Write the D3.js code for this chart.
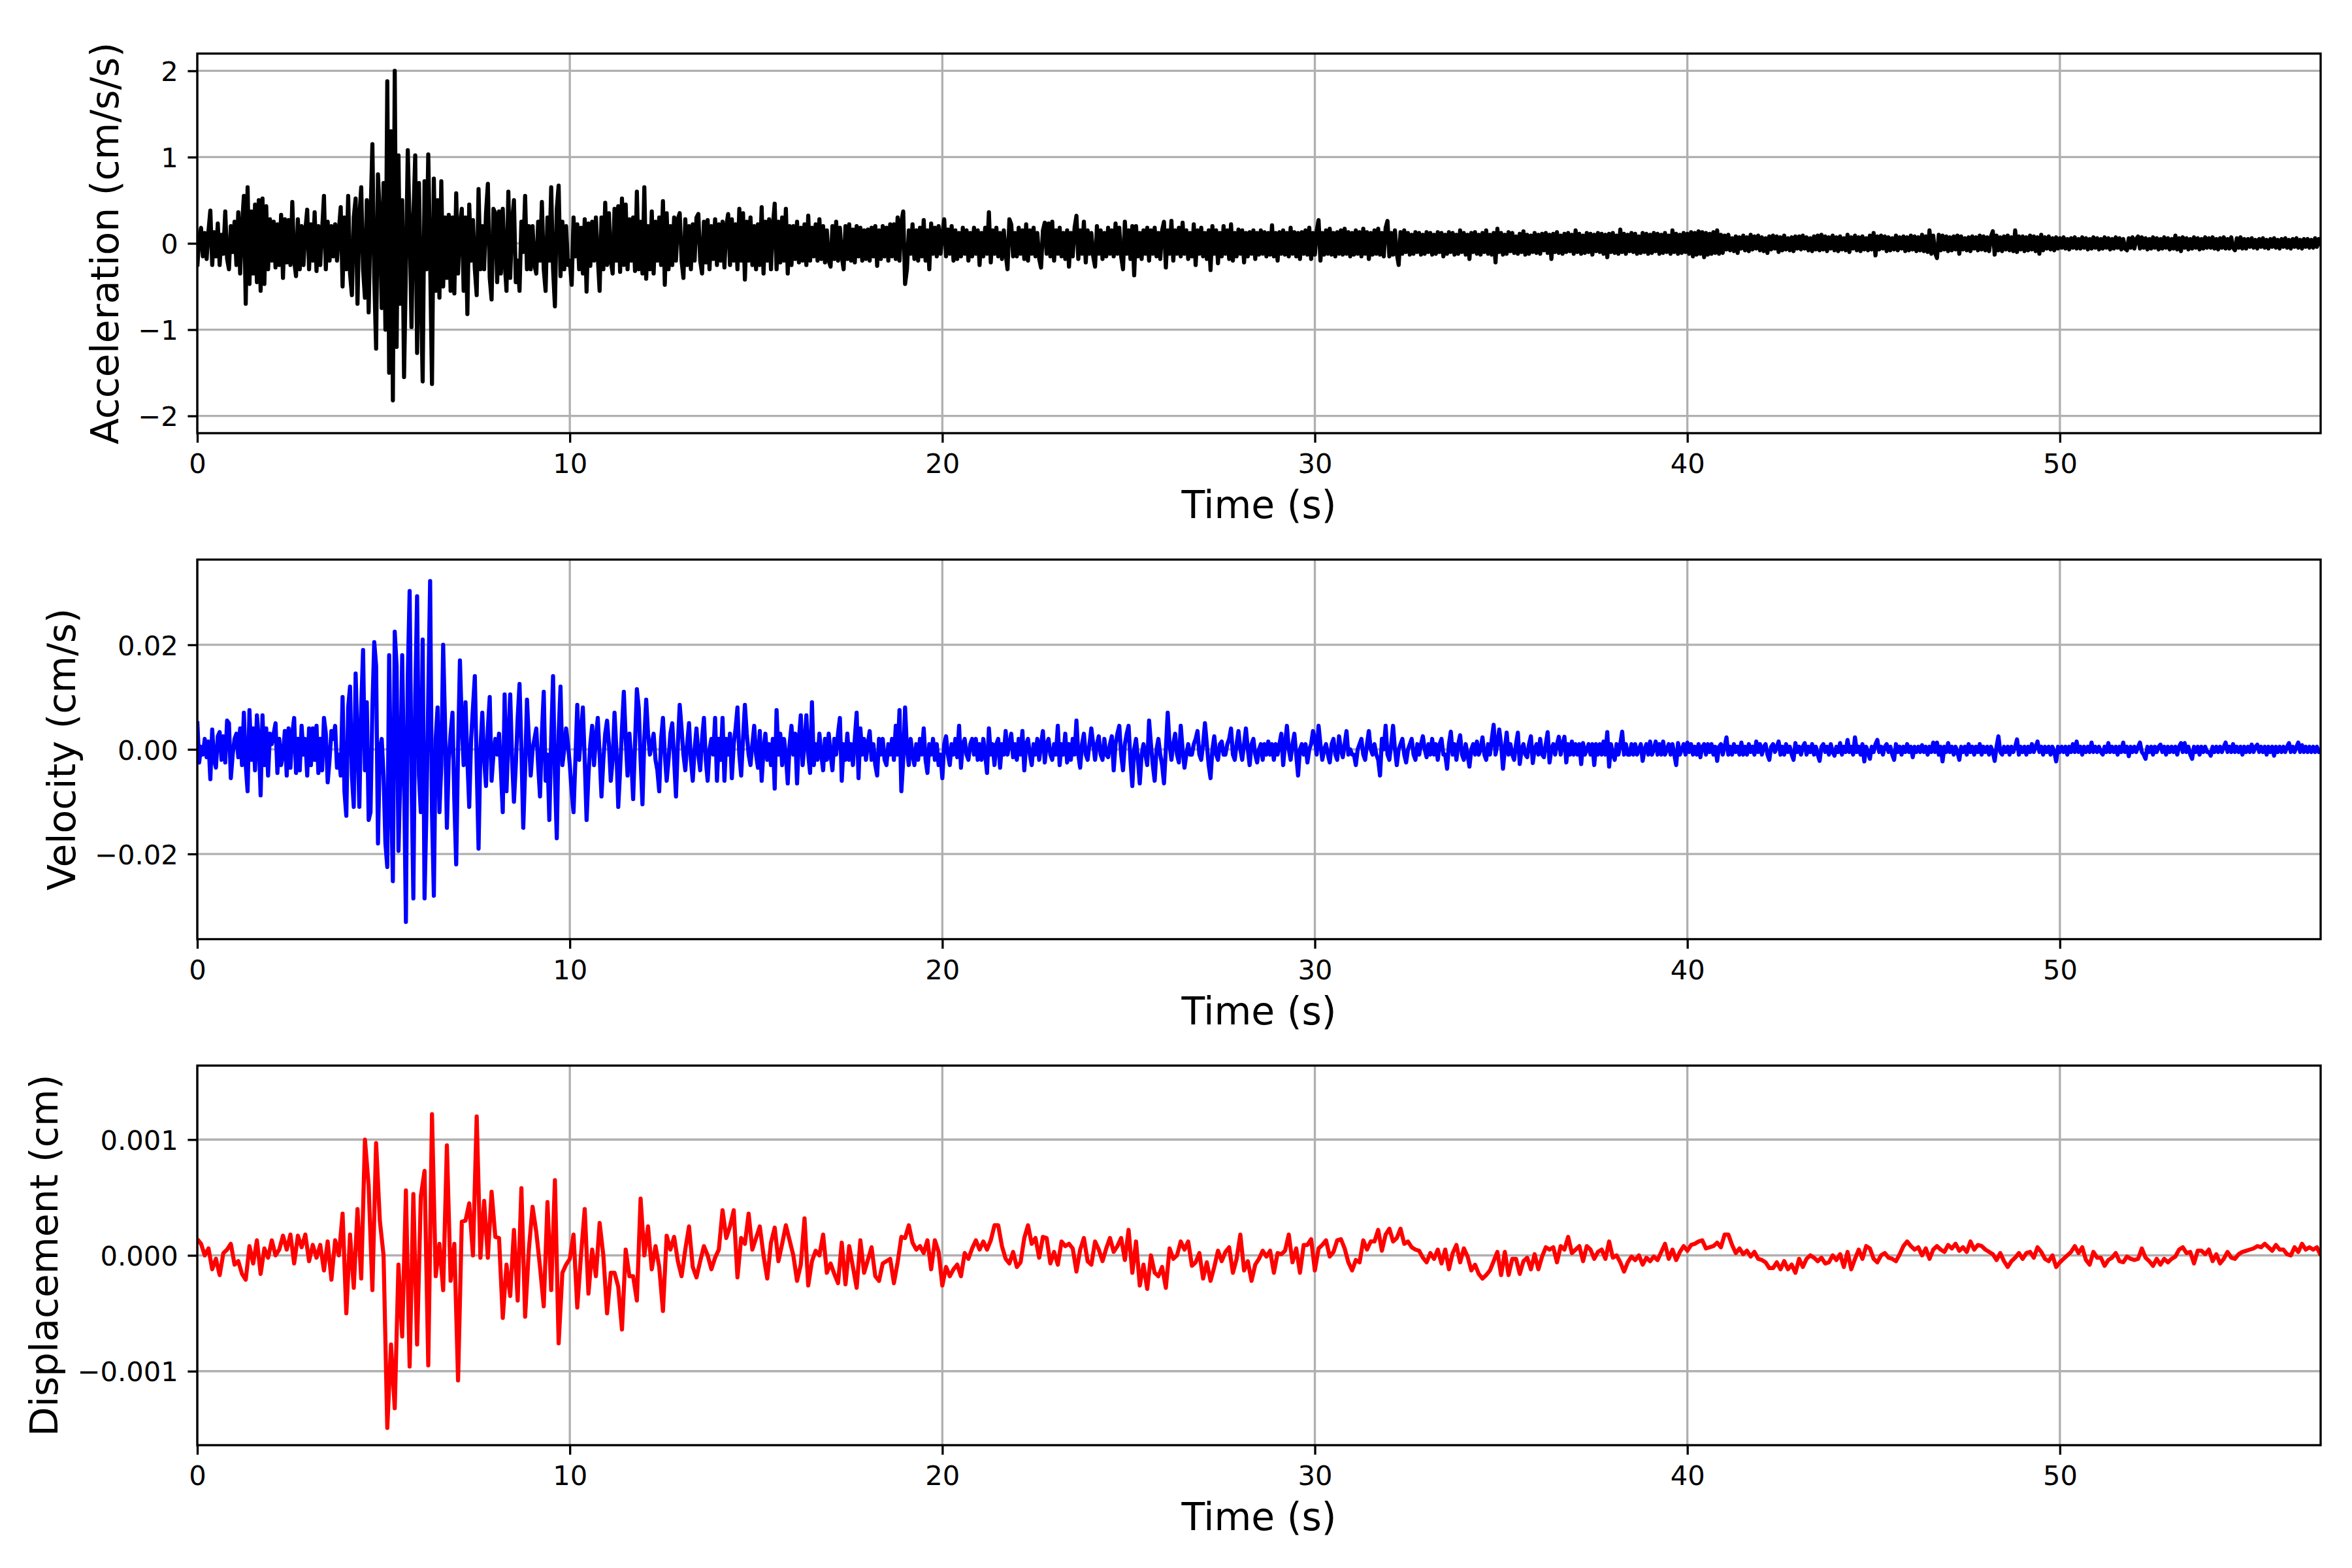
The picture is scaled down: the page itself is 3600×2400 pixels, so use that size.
<!DOCTYPE html>
<html>
<head>
<meta charset="utf-8">
<script src="https://cdn.jsdelivr.net/npm/d3@7"></script>
<style>
body { margin: 0; background: #fff; }
svg { display: block; }
</style>
</head>
<body>
<svg id="chart"></svg>
<script>
// Sample spacing of each record (s)
var accelDt = 0.05, velDt = 0.05, dispDt = 0.1;

// Acceleration (cm/s/s), one row per second
var acceleration = [
-0.27,0.05,0.18,-0.15,0.12,-0.18,0.14,0.38,-0.25,0.13,-0.15,0.23,-0.25,0.1,-0.12,0.37,-0.18,-0.3,0.2,-0.1,
0.25,-0.25,0.36,-0.35,0.2,0.55,-0.7,0.65,-0.47,0.37,-0.35,0.45,-0.45,0.5,-0.55,0.52,-0.47,0.43,-0.3,0.28,
-0.2,0.25,-0.28,0.22,-0.25,0.33,-0.4,0.28,-0.22,0.27,-0.25,0.48,-0.2,-0.38,0.28,-0.3,0.2,-0.25,0.15,0.39,
-0.3,0.22,-0.2,0.36,-0.32,0.2,-0.25,0.15,0.55,-0.3,0.25,-0.2,0.2,-0.15,0.22,-0.2,0.15,0.42,-0.5,0.3,
-0.3,0.55,-0.35,-0.6,0.3,0.52,-0.7,0.3,0.65,-0.3,-0.63,0.5,-0.8,0.3,1.15,-0.4,-1.22,0.8,0.3,-0.75,
0.7,-1.0,1.88,-1.5,1.3,-1.82,2.0,-1.2,1.02,-0.7,0.5,-1.55,-0.3,1.08,0.2,-0.97,0.3,1.02,-1.27,0.7,
-0.5,-1.6,0.72,-0.3,1.03,-0.2,-1.63,0.75,-0.55,0.5,-0.63,0.72,-0.5,0.3,-0.4,0.33,-0.55,0.3,-0.58,0.58,
-0.35,0.2,0.4,-0.55,0.3,-0.82,0.45,-0.2,0.27,-0.3,-0.6,0.63,-0.3,0.2,-0.3,0.35,0.69,-0.4,-0.65,0.4,
0.35,-0.45,0.37,-0.35,0.4,-0.2,-0.55,0.6,-0.4,0.25,0.5,-0.45,-0.2,-0.55,0.25,-0.1,0.55,-0.3,0.2,-0.3,
0.2,-0.25,-0.35,0.25,-0.2,0.48,-0.3,-0.55,0.3,-0.2,0.65,-0.3,-0.73,0.4,0.67,-0.38,0.25,-0.3,0.2,-0.25,
-0.2,-0.48,0.3,-0.15,0.22,-0.3,0.18,-0.35,0.28,-0.56,0.23,-0.26,0.25,-0.2,0.3,-0.15,-0.55,0.3,-0.3,0.47,
-0.25,0.35,-0.2,-0.35,0.4,-0.2,0.43,-0.33,0.52,-0.25,0.45,-0.3,0.28,-0.2,0.3,-0.32,0.6,-0.3,0.25,-0.35,
0.65,-0.41,0.2,-0.3,0.37,-0.35,0.25,-0.2,0.3,-0.25,0.49,-0.48,0.35,-0.3,0.2,-0.25,0.3,-0.2,0.28,0.35,
-0.2,-0.4,0.28,-0.25,0.2,-0.3,0.22,-0.2,0.3,0.34,-0.2,-0.35,0.25,-0.22,0.27,-0.3,0.2,-0.18,0.28,-0.25,
0.22,-0.2,0.25,-0.28,0.2,0.34,-0.25,0.28,-0.2,0.22,-0.3,0.4,-0.2,0.35,-0.42,0.25,-0.2,0.3,-0.25,0.2,
-0.3,0.22,-0.25,0.42,-0.35,0.25,-0.2,0.28,-0.3,0.2,0.46,-0.3,0.25,-0.22,0.3,-0.2,0.4,-0.35,0.2,-0.25,
0.2,-0.18,0.25,-0.22,0.18,-0.2,0.22,-0.25,0.32,-0.2,0.18,-0.15,0.22,-0.2,0.28,-0.18,0.2,-0.22,0.15,-0.2,
-0.27,0.2,-0.18,0.25,-0.2,0.18,-0.15,-0.3,0.2,-0.18,0.22,-0.2,0.16,-0.22,0.2,-0.15,0.18,-0.2,0.15,-0.18,
0.16,-0.2,0.18,-0.15,0.2,-0.26,0.15,-0.18,0.2,-0.15,0.18,-0.2,0.22,-0.15,0.22,-0.18,0.3,-0.2,0.25,0.37,
-0.47,-0.3,0.15,-0.12,0.22,-0.18,0.15,-0.2,0.18,-0.15,0.27,-0.2,0.15,-0.3,0.23,-0.12,0.18,-0.15,0.2,-0.12,
0.1,0.28,-0.15,0.16,-0.12,0.2,-0.2,0.15,-0.18,0.12,-0.15,0.18,-0.12,0.15,-0.2,0.12,-0.15,0.18,-0.12,0.15,
-0.25,0.12,-0.15,0.18,-0.12,0.36,-0.22,0.15,-0.12,0.18,-0.15,0.12,-0.18,0.15,-0.12,-0.3,0.28,0.22,-0.15,0.12,
-0.15,0.18,-0.12,0.15,-0.18,0.22,-0.2,0.15,-0.12,0.18,-0.15,0.12,-0.18,-0.28,0.15,0.24,-0.12,0.23,-0.15,0.25,
-0.2,0.15,-0.12,0.18,-0.15,0.12,-0.18,0.15,-0.27,0.12,-0.15,0.18,0.32,-0.18,0.15,-0.12,0.25,-0.22,0.15,-0.12,
0.12,-0.15,-0.27,0.2,-0.12,0.15,-0.18,0.12,-0.15,0.18,-0.12,0.15,-0.15,0.23,-0.12,0.18,-0.15,-0.3,0.25,-0.12,
0.15,-0.18,0.2,-0.37,0.2,-0.15,0.12,-0.18,0.15,-0.12,0.18,-0.2,0.15,-0.12,0.18,-0.15,0.12,-0.18,0.15,0.25,
-0.28,0.15,-0.12,0.26,-0.2,0.15,-0.12,0.18,-0.15,0.24,-0.12,0.15,-0.18,0.12,-0.15,0.22,-0.25,0.15,-0.12,0.18,
-0.15,0.12,-0.18,0.15,-0.31,0.2,-0.12,0.15,-0.23,0.12,-0.15,0.2,-0.12,0.15,-0.18,0.22,-0.2,0.12,-0.15,0.16,
-0.12,0.15,-0.22,0.12,-0.15,0.13,-0.12,0.15,-0.18,0.12,-0.13,0.15,-0.12,0.13,-0.15,0.12,-0.13,0.21,-0.15,0.12,
-0.2,0.13,-0.12,0.15,-0.13,0.12,-0.15,0.18,-0.12,0.13,-0.15,0.12,-0.18,0.13,-0.12,0.15,-0.13,0.18,-0.18,0.12,
-0.13,0.15,0.27,-0.2,0.12,-0.13,0.15,-0.12,0.17,-0.13,0.12,-0.15,0.13,-0.12,0.15,-0.13,0.17,-0.12,0.13,-0.15,
0.12,-0.13,0.15,-0.12,0.13,-0.15,0.17,-0.12,0.13,-0.18,0.12,-0.13,0.15,-0.12,0.17,-0.13,0.12,-0.15,0.18,0.26,
-0.15,0.12,-0.13,0.15,-0.12,-0.25,0.13,-0.12,0.15,-0.1,0.12,-0.13,0.1,-0.12,0.13,-0.1,0.12,-0.13,0.1,-0.12,
0.13,-0.1,0.12,-0.13,0.1,-0.12,0.13,-0.1,0.12,-0.15,0.1,-0.12,0.13,-0.1,0.12,-0.13,0.1,-0.12,0.15,-0.1,
0.12,-0.13,0.1,-0.18,0.12,-0.1,0.13,-0.12,0.1,-0.13,0.12,-0.1,0.15,-0.12,0.1,-0.13,0.12,-0.22,0.17,-0.1,
0.12,-0.13,0.1,-0.12,0.13,-0.09,0.12,-0.11,0.08,-0.12,0.11,-0.1,0.14,-0.13,0.1,-0.12,0.09,-0.1,0.12,-0.11,
0.1,-0.12,0.11,-0.08,0.12,-0.11,0.1,-0.18,0.11,-0.1,0.13,-0.11,0.09,-0.12,0.11,-0.1,0.12,-0.09,0.1,-0.12,
0.15,-0.1,0.11,-0.12,0.09,-0.11,0.12,-0.1,0.11,-0.13,0.1,-0.09,0.12,-0.1,0.11,-0.12,0.1,-0.16,0.11,-0.1,
0.12,-0.11,0.09,-0.12,0.16,-0.1,0.11,-0.12,0.1,-0.09,0.12,-0.1,0.11,-0.12,0.08,-0.11,0.12,-0.1,0.11,-0.12,
0.1,-0.11,0.12,-0.09,0.11,-0.12,0.1,-0.11,0.12,-0.1,0.09,-0.12,0.15,-0.1,0.11,-0.12,0.1,-0.11,0.12,-0.1,
0.11,-0.12,0.13,-0.15,0.12,-0.13,0.14,-0.12,0.13,-0.16,0.12,-0.13,0.11,-0.12,0.13,-0.11,0.15,-0.12,0.1,-0.11,
0.09,-0.07,0.1,-0.08,0.06,-0.09,0.08,-0.11,0.07,-0.06,0.09,-0.08,0.07,-0.09,0.1,-0.07,0.08,-0.06,0.09,-0.08,
0.07,-0.09,0.06,-0.11,0.08,-0.07,0.09,-0.06,0.08,-0.1,0.07,-0.08,0.09,-0.07,0.06,-0.08,0.07,-0.09,0.08,-0.06,
0.08,-0.07,0.09,-0.06,0.07,-0.08,0.06,-0.09,0.08,-0.07,0.09,-0.08,0.1,-0.07,0.08,-0.09,0.07,-0.06,0.09,-0.08,
0.07,-0.09,0.08,-0.07,0.06,-0.08,0.1,-0.1,0.07,-0.06,0.09,-0.08,0.07,-0.09,0.08,-0.07,0.06,-0.08,0.09,-0.07,
0.12,-0.14,0.08,-0.07,0.09,-0.06,0.08,-0.09,0.07,-0.08,0.06,-0.07,0.09,-0.08,0.07,-0.06,0.08,-0.09,0.07,-0.08,
0.09,-0.07,0.08,-0.09,0.07,-0.08,0.1,-0.09,0.08,-0.1,0.15,-0.12,0.09,-0.11,-0.17,0.1,-0.08,0.09,-0.07,0.08,
-0.09,0.07,-0.08,0.08,-0.07,0.09,-0.12,0.08,-0.07,0.06,-0.08,0.07,-0.09,0.08,-0.06,0.07,-0.08,0.09,-0.07,0.08,
-0.08,0.07,-0.09,0.08,0.14,-0.13,0.09,-0.08,0.07,-0.09,0.08,-0.07,0.09,-0.08,0.07,-0.09,0.15,-0.1,0.08,-0.07,
0.08,-0.09,0.07,-0.08,0.09,-0.07,0.08,-0.09,0.07,-0.12,0.1,-0.08,0.07,-0.06,0.08,-0.07,0.06,-0.08,0.07,-0.06,
0.06,-0.05,0.07,-0.06,0.05,-0.07,0.06,-0.05,0.07,-0.06,0.05,-0.06,0.07,-0.05,0.06,-0.07,0.05,-0.06,0.07,-0.05,
0.06,-0.07,0.05,-0.06,0.07,-0.05,0.06,-0.07,0.05,-0.06,0.07,-0.05,0.06,-0.07,0.05,-0.06,-0.08,0.06,-0.05,0.07,
-0.06,0.05,0.08,-0.06,0.07,-0.05,0.06,-0.07,0.05,-0.06,0.07,-0.05,0.06,-0.07,0.05,-0.06,0.07,-0.05,0.06,-0.07,
0.05,-0.06,0.09,-0.07,0.06,-0.09,0.07,-0.05,0.06,-0.07,0.05,-0.06,0.07,-0.05,0.06,-0.07,0.05,-0.06,0.07,-0.05,
0.06,-0.05,0.07,-0.06,0.05,-0.07,0.06,-0.05,0.07,-0.06,0.05,-0.06,0.07,-0.05,-0.08,0.06,-0.05,0.07,-0.06,0.05,
-0.06,0.05,-0.04,0.06,-0.05,0.04,-0.06,0.05,-0.04,0.06,-0.05,0.04,-0.06,0.05,-0.04,0.06,-0.05,0.04,-0.06,0.05,
-0.04,0.06,-0.05,0.04,-0.06,0.05,-0.04,0.06,-0.05,0.04,-0.06,0.05,-0.04,0.05,-0.05,0.04,-0.05,0.06,-0.04,0.05,
-0.03
];

// Velocity, in units of 0.001 cm/s, one row per second
var velocity_milli = [
5.4,-2.5,0.5,-1,2,-1.5,1.5,-5.7,3.8,-2,-3.5,2.5,3.3,-2,2.5,-2.5,5.5,5,-5.5,-1,
2,3,-1.5,4,-3,7,-3,-8,7.5,-2,4,-4,6.5,2,-8.8,6.5,-3,4,-5,3,
1,3,5,-4.5,2,-3,-1,3.5,-5,4,-3.5,3,6,-4.5,2,-4,4.5,-1,2,-5,
4,-3,4,-2,4.5,-4.5,2,-4,6,3,-6.3,-2,3.5,2,4.5,-3.5,-1,-5,10,-8,
-12.7,8,12,-5,-11,14.5,2,-11,8,19,-4,9,-13.5,-12,8,20.5,16,-18,0,2,
-5,-18,-22.5,18,-8,-25.2,22.5,16,-19.4,-5,18,-5,-33,14,30.3,-5,-28.5,10,29.3,-5,
-12,21,-28.5,-12,10,32.2,-12,-28,2,8,-12,-3,20,5,-15,-2,3,7,-10,-22,
0,17,5,-3,9,-2,-11,2,8,14,-3,-19,0,7,-2,-7,4,10,-6,-1,
2,-1,3,-4,-12,10.5,-8,2,10.5,-2,-10,-3,6,12.5,0,-15,-4,9.5,2,-5,
0,2,4,-3,-9,3,11,-6,-1,-13.5,2,14,-5,-17,3,12,-3,0,4,1,
-3,-8,-12,-2,8.5,-2,3,8,-2,-13.5,-5,1,4.5,-3,2,6,-1,-9,-2,3,
5.5,1,-6,-2,7,0,-11,-4,4,11,2,-5,3,-2,-9.5,1,11.5,8,-2,-10.5,
2,9.5,3,-1,1,3,-2,-4,-8,2,6,-1,-6,-2,3,5,-2,-9,1,8.5,
4,-1,-4,1,5,-2,-6,0,4,-1,-4,2,6,-2,-6,0,2,-1,6,-6,
2,-2,6,-6,2,-1,3,-5.5,1,4,8,-1,-5,2,8.5,3,-1,-3,1,4.5,
-1,-3.5,3.5,-6,0,3,-2,1,-3,2,-7.5,7.5,-1,3,-3,2,-1,-6.5,1,4.5,
-1,3,-6.5,2,6.5,-3,1,6.5,-1,-4.5,9,-3,1,-2,3,-1,-4,2,-2,3,
-1,-4,2,-1,3,6,-6,1,-2,3,-2,1,-3,2,7,-5.5,4,-1,2,-2,
1,3.5,-2,1,-3,-5,2,-1,2,-2,-3,1,-1,2,-2,4.5,-1,7.5,-8,-2,
8,0,-3,2,-1,-3,1,-2,2,-1,4,-2,-4.5,1,-1,2,-2,1,-3,-1,
-5.5,1,2.5,-1,-3,1,-1,2,-1.5,4.5,-3.5,1,2,-1,-2,1,2,-1,2,-2,
1,-2,2,-1,-4.5,4,-1,1,-3,1,2,-3.5,1,-1,3.5,-1,1,3,-1.5,1,
-2,2,-1,3.5,-4,1,2,-1,-3,1,-1,2,-2,1,3.5,-2.5,1,2,-1,-2,
1,-1,4.5,-3,1,-1,3,-2.5,1,-2,2,-1,5.5,-1,-3.5,1,3,-1,-2,1,
4,1,-2,1,2.5,-1,-2,2,-1,-1.5,1,2.5,-4,1,3,4.5,-1,-4,1,3,
4.5,-2,-7,0,2,-2,-6.5,-1,1,-1,-3,5.5,1,-3,-6,0,2,-1,-3,-6.5,
0,7,1,-2,1,3,-1,-2.5,4.5,0,-3.5,-1,1,-1,-1,1,2,3.5,-1,-2,
1,5,1,-3,-5.5,0,2.5,-1,-2,1,1.5,-1,-1,1,2,4,-1,-2,1,3.5,
0,-2,1,4,0,-3,1,2,-1,-2.5,0,1,-2,1,-1,1.5,-1,1,-2,1,
-1,1,3,-3,1,4.5,0,-2,1,3,-1,-5,0,1,-1,1,-2.5,0,1,3.5,
2,-1,4.5,1,-2,0,1,-1,-2.5,1,2,-1,-2,2.5,0,-1.5,1,3.5,-1,0,
-1,-1,-3,0,1,2,-1,-2,1,3.5,0,-1,1,-1,-2,-5,2,0,4.5,-1,
-2,1,4.5,0,-3,0,1,2,-1,-2.5,0,1,2,-1,-2,1,-1,1,2.5,0,
-1.5,1,-1,2,-1,1,-2,1,2,-1,-1,-3.7,1,3.4,-1,1,-2,1,2.7,-1,
-2,1,-1,-3.3,0,1,-1,1.5,-1,0,2.3,-1,-2,1,-1,2,4.7,-1,1,3.8,
1,-3.7,0,3.2,-1,1,-1,-2,1,3.2,-2.8,0,1,-1,-1.5,1,2.5,-2.6,0,1,
-1,2,-1,-1.5,1,3.3,-2.5,0,1,-1,1,2.4,-1,1,2.4,-2.5,1,-1,1.5,-1,
1,-1,1,-2.8,1.2,-1,0,1,-1,1,-3,1,-1,1,-1,1.5,-1,3.3,-3.3,1,
-1,-2,1,-1,1,3.4,-1,1,-1,-1,1,-1,1,-1,0,1,-2.2,0,1,-1,
1.5,-1,0,1.5,-1,1,-1,1.5,-1,0,1,-1,1,-1,-3,1.2,-1,0,1,-1,
1.3,-0.5,1,-1,0.5,-1,1,-1.5,0.5,1,-1,1,-0.5,1,-1,0.5,-2.2,0.5,1,-1,
0.5,2.3,-1,0.5,-1,1,-0.5,0.5,-1,1.3,-1,0.5,-1,1,-0.5,0.5,-1,1.5,-0.5,1,
-1,0.5,1,-1,-2,0.5,1,-0.5,0.5,1.5,-1,0.5,-1,1,-0.5,0.5,-1,-2,1.2,-0.5,
0.5,-1,0.5,1.2,-1,0.5,-0.5,1,-1,0.5,-1,-2.2,0.5,1,-0.5,0.5,-1,1,-0.5,-1.2,
0.5,-0.5,1.2,-1,0.5,-0.5,1.8,-0.5,0.5,-1,2.3,-0.5,0.5,-1,1,-2.3,0.5,-0.5,-1.8,0.5,
-0.5,1,1.8,-0.5,0.5,-1,0.5,1,-0.5,0.5,-1,-2,1,-0.5,0.5,-1,0.5,-0.5,1,-0.5,
0.5,-1.5,0.5,-0.5,0.5,-0.5,0.8,-0.5,0.5,-1,0.5,-0.5,1.3,-0.5,1.3,-1,0.5,-2.3,0.5,-0.5,
1.2,-0.5,0.5,-1,0.5,-0.5,-2,0.5,-0.5,0.5,-1,1,-0.5,0.5,-1,0.5,-0.5,1,-1,0.5,
-0.5,0.5,-1,0.5,-0.5,-2.2,0.5,2.5,-0.5,-1,0.5,-0.5,0.5,-1,0.5,-0.5,0.5,1.9,-1,0.5,
-0.5,0.5,-1,0.5,-0.5,1,-0.5,0.5,1.5,-0.5,0.5,-1,0.5,-0.5,0.5,-1,0.5,-0.5,-2.3,0.5,
-0.5,0.5,-0.5,0.5,-1,0.5,-0.5,1,-0.5,1.5,-0.5,0.5,-1,0.5,-0.5,0.5,-0.5,1.3,-0.5,0.5,
-0.5,0.5,-0.5,-1,0.5,-0.5,1.2,-0.5,0.5,-0.5,0.5,-1,0.5,-0.5,1.3,-0.5,0.5,-1.3,0.5,-0.5,
0.5,-0.5,0.5,1.3,-0.5,-1,-1.8,0.5,-0.5,0.5,-1,0.5,-0.5,0.5,0.9,-0.5,0.5,-1,0.5,-0.5,
0.5,-0.5,0.5,-1,0.5,1.2,-0.5,1.2,-0.5,0.5,-1,-1.8,0.5,-0.5,0.5,-1,0.5,-0.5,0.5,-0.5,
-0.5,-1.2,0.5,-0.5,0.5,-0.5,0.5,-0.5,0.5,1.3,-0.5,0.5,-0.5,1,-0.5,0.5,-0.5,0.5,-1,0.5,
-0.5,0.5,-0.5,0.9,-0.5,0.5,0.9,-0.5,0.5,-0.5,0.5,-1,0.5,-0.5,0.5,-1.2,0.5,-0.5,0.5,-0.5,
0.5,-0.5,0.5,1.2,-0.5,0.5,-0.5,0.5,1.3,-0.5,0.8,-0.5,0.5,-0.5,0.5,-0.5,0.5,-0.5,0.5,-0.5,
-0.3
];

// Displacement, in units of 0.0001 cm, one row per second
var displacement_e4 = [
1.4,1.0,0,0.6,-1.2,-0.3,-1.7,0.2,0.5,1.0,
-0.8,-0.5,-1.6,-2.1,0.8,-0.7,1.3,-1.6,0.6,-0.2,
1.3,0,0.5,1.7,0.5,1.8,-0.7,1.7,0.7,1.8,
-0.5,0.9,-0.2,0.9,-1.3,1.2,-2.1,1.3,0,3.6,
-5,1.8,-2.8,4,-2,10,6,-3,9.7,3,
0,-14.9,-7.7,-13.2,-0.8,-7,5.6,-9.6,5.3,-7.7,
5.1,7.3,-9.5,12.2,-1.8,1,-3,9.5,-2.2,1,
-10.8,2.9,3,4.5,0,12,-0.2,4.7,-0.2,5.5,
1.6,1.5,-5.4,-0.8,-3.5,2.2,-3.9,5.8,-5.3,0.5,
4.2,2,-1,-4.4,4.6,-3,6.5,-7.6,-1.5,-0.8,
-0.3,1.8,-4.5,0,4,-3.3,0.5,-1.8,2.8,0,
-5,-1.5,-1.5,-2.7,-6.4,0.5,-1.8,-1.8,-3.9,4.9,
0,2.5,-1.2,0.8,-1,-4.8,1.7,0.5,1.6,-0.5,
-1.8,0.5,2.5,-1,-1.9,-0.5,0.8,0,-1.2,-0.2,
0.5,3.9,1.5,2.5,3.9,-1.9,1.5,1,3.6,0.5,
1.5,2.5,0,-2,1.1,2.4,-0.5,1,2.6,1.3,
0,-2.2,-0.8,3.2,-2.6,-0.5,0.4,0,1.8,-1.5,
-0.7,-1.6,-2.4,1.1,-2.5,0.8,-1,-2.8,1.3,-1.5,
-0.4,0.7,-1.8,-2.2,-0.7,-0.5,-0.3,-2.4,-0.6,1.6,
1.5,2.6,1.1,0.5,0.8,0.2,1.3,-1.2,1.3,0.3,
-2.6,-1,-1.8,-1.2,-0.8,-1.8,0.2,-0.3,0.6,1.3,
0.5,1.2,0.5,1.3,2.6,2.6,0.8,-0.3,-0.7,0.3,
-1,-0.6,1.5,2.6,1,1.5,-0.2,1.6,1.5,-0.7,
0.3,-0.8,1.2,0.8,1,0.6,-1.4,0.5,1.5,-0.5,
-0.8,1.2,0.5,-0.5,0.6,1.5,0.3,0.8,1.5,-0.4,
2.2,-1.5,1.2,-2.6,-0.8,-2.9,0,-1.5,-1.8,-1,
-2.8,0.6,-0.3,0,1.2,0.5,1.2,-0.9,-0.6,0.2,
-2,-0.6,-2.2,-1,0.4,-0.5,0.3,0.7,-1.5,-0.3,
1.8,-1.3,-0.5,-2.2,-0.8,-0.3,0.4,-0.1,0.4,-1.5,
0.2,0.1,0.4,1.8,-0.6,0.6,-1.5,0.9,0.9,1.4,
-1.3,0.6,0.9,1.3,-0.1,0.3,1.3,1.4,0.6,-0.6,
-1.3,-0.4,-0.6,1.3,0.5,1.2,1.2,2.2,0.4,1.8,
2.3,1.2,1.5,2.3,1,1.2,0.7,0.5,0.4,-0.2,
-0.6,0.2,-0.3,0.5,-0.7,0.5,-1.2,0.2,0.9,-0.6,
0.6,-0.1,-1.3,-0.8,-1.6,-2,-1.7,-1.3,-0.5,0.3,
-1.7,0.3,-1.7,-0.3,-0.3,-1.6,-0.5,-0.2,-1.2,0.1,
-1.2,-0.1,0.7,0.5,0.7,-0.6,0.8,0.5,1.6,0.2,
0.5,0.8,-0.5,0.8,0.5,-0.3,0.3,0.5,-0.3,1.2,
-0.2,0,-0.6,-1.4,-0.6,-0.1,-0.4,0,-0.8,-0.2,
-0.5,-0.1,-0.4,0.3,1,-0.3,0.5,-0.4,0.3,0.8,
0.4,0.9,1,1.2,1.3,0.6,0.7,0.8,1.1,0.7,
1.8,1.8,0.9,0.2,0.6,0.1,0.4,-0.1,0.3,-0.3,
-0.4,-0.6,-1.1,-1.1,-0.6,-1.2,-0.5,-1.2,-0.8,-1.5,
-0.3,-1,-0.3,0,-0.2,-0.5,-0.2,-0.7,-0.6,0,
-0.4,0.1,-1,0.3,-1.2,-0.3,0.5,-0.3,0.8,0.6,
-0.3,-0.6,0,0.2,-0.2,-0.3,-0.5,0.1,0.8,1.2,
0.8,0.5,0.7,0,0.6,-0.3,0.5,0.8,0.5,0.3,
0.9,0.6,1,0.4,0.7,0.3,1.2,0.5,0.9,0.8,
0.5,0.3,0.1,-0.4,0.2,-0.5,-1,-0.5,-0.2,0.2,
-0.3,0.2,0.3,-0.2,0.7,0.3,-0.3,-0.5,0,-1,
-0.6,-0.3,0,0.3,0.8,0.2,0.7,-0.4,-0.8,0.3,
-0.2,-0.2,-0.9,-0.4,-0.2,0.2,-0.5,-0.6,-0.1,-0.3,
-0.4,-0.3,0.6,-0.2,-0.5,-0.9,-0.3,-0.8,-0.3,-0.6,
-0.3,-0.1,0.5,0.7,0.2,0.3,-0.7,0.4,0.4,0.1,
0.5,-0.5,0.1,-0.7,-0.3,0.3,-0.2,-0.3,0.1,0.3,
0.4,0.5,0.6,0.8,0.7,1,0.7,0.4,0.9,0.5,
0.5,0.1,0,0.7,0.3,1,0.5,0.7,0.5,0.7,
0
];

// Axis ticks
var timeTicks = [0, 10, 20, 30, 40, 50];
var accelTicks = [-2, -1, 0, 1, 2];
var velTicks = [-0.02, 0, 0.02];
var dispTicks = [-0.001, 0, 0.001];

var svg_width = 3600, svg_height = 2400;
var plotLeft = 302, plotRight = 3552;
var plotTops = [82, 856.5, 1631];
var plotHeight = 581;
var lineWidth = 6.25, axisWidth = 3.33, tickLen = 14.6;
var font = "DejaVu Sans";

var svg = d3.select("#chart")
	.attr("width", svg_width)
	.attr("height", svg_height);

svg.append("rect")
	.attr("width", svg_width)
	.attr("height", svg_height)
	.attr("fill", "#ffffff");

var panels = [
	{ values: acceleration, dt: accelDt, unit: 1, color: "#000000",
	  label: "Acceleration (cm/s/s)", ticks: accelTicks, fmt: d3.format("d") },
	{ values: velocity_milli, dt: velDt, unit: 1e-3, color: "#0000ff",
	  label: "Velocity (cm/s)", ticks: velTicks, fmt: d3.format(".2f") },
	{ values: displacement_e4, dt: dispDt, unit: 1e-4, color: "#ff0000",
	  label: "Displacement (cm)", ticks: dispTicks, fmt: d3.format(".3f") }
];

var tEnd = (acceleration.length - 1) * accelDt;
var x = d3.scaleLinear().domain([0, tEnd]).range([plotLeft, plotRight]);

panels.forEach(function (p, k) {
	var top = plotTops[k], bottom = top + plotHeight;
	var data = p.values.map(function (v, i) { return { t: i * p.dt, v: v * p.unit }; });

	// symmetric limits, 10% beyond the largest excursion
	var lim = 1.1 * d3.max(data, function (d) { return Math.abs(d.v); });
	var y = d3.scaleLinear().domain([-lim, lim]).range([bottom, top]);

	var g = svg.append("g");

	// grid
	g.selectAll(".vgrid").data(timeTicks).enter().append("line")
		.attr("x1", function (d) { return x(d); }).attr("x2", function (d) { return x(d); })
		.attr("y1", top).attr("y2", bottom)
		.attr("stroke", "#b0b0b0").attr("stroke-width", axisWidth);
	g.selectAll(".hgrid").data(p.ticks).enter().append("line")
		.attr("x1", plotLeft).attr("x2", plotRight)
		.attr("y1", function (d) { return y(d); }).attr("y2", function (d) { return y(d); })
		.attr("stroke", "#b0b0b0").attr("stroke-width", axisWidth);

	// clipped trace
	svg.append("clipPath").attr("id", "clip" + k)
		.append("rect")
		.attr("x", plotLeft).attr("y", top)
		.attr("width", plotRight - plotLeft).attr("height", plotHeight);

	var line = d3.line()
		.x(function (d) { return x(d.t); })
		.y(function (d) { return y(d.v); });

	g.append("path")
		.datum(data)
		.attr("clip-path", "url(#clip" + k + ")")
		.attr("fill", "none")
		.attr("stroke", p.color)
		.attr("stroke-width", lineWidth)
		.attr("stroke-linejoin", "round")
		.attr("d", line);

	// axes
	var xAxis = g.append("g")
		.attr("transform", "translate(0," + bottom + ")")
		.call(d3.axisBottom(x).tickValues(timeTicks).tickSize(tickLen)
			.tickPadding(17.2).tickFormat(d3.format("d")));
	var yAxis = g.append("g")
		.attr("transform", "translate(" + plotLeft + ",0)")
		.call(d3.axisLeft(y).tickValues(p.ticks).tickSize(tickLen)
			.tickPadding(14.6).tickFormat(p.fmt));

	[xAxis, yAxis].forEach(function (a) {
		a.select(".domain").remove();
		a.attr("font-family", font).attr("font-size", 41.67);
		a.selectAll(".tick line").attr("stroke", "#000").attr("stroke-width", axisWidth);
		a.selectAll(".tick text").attr("fill", "#000");
	});
	yAxis.selectAll(".tick text").attr("dy", "0.365em");

	// spines
	g.append("rect")
		.attr("x", plotLeft).attr("y", top)
		.attr("width", plotRight - plotLeft).attr("height", plotHeight)
		.attr("fill", "none").attr("stroke", "#000").attr("stroke-width", axisWidth);

	// labels
	g.append("text")
		.attr("x", (plotLeft + plotRight) / 2)
		.attr("y", bottom + 130)
		.attr("text-anchor", "middle")
		.attr("font-family", font).attr("font-size", 58.33)
		.attr("fill", "#000")
		.text("Time (s)");

	var bb = yAxis.node().getBBox();
	var labelX = plotLeft + bb.x - 30.5;
	g.append("text")
		.attr("transform", "translate(" + labelX + "," + (top + plotHeight / 2) + ") rotate(-90)")
		.attr("text-anchor", "middle")
		.attr("font-family", font).attr("font-size", 58.33)
		.attr("fill", "#000")
		.text(p.label);
});
</script>
</body>
</html>
